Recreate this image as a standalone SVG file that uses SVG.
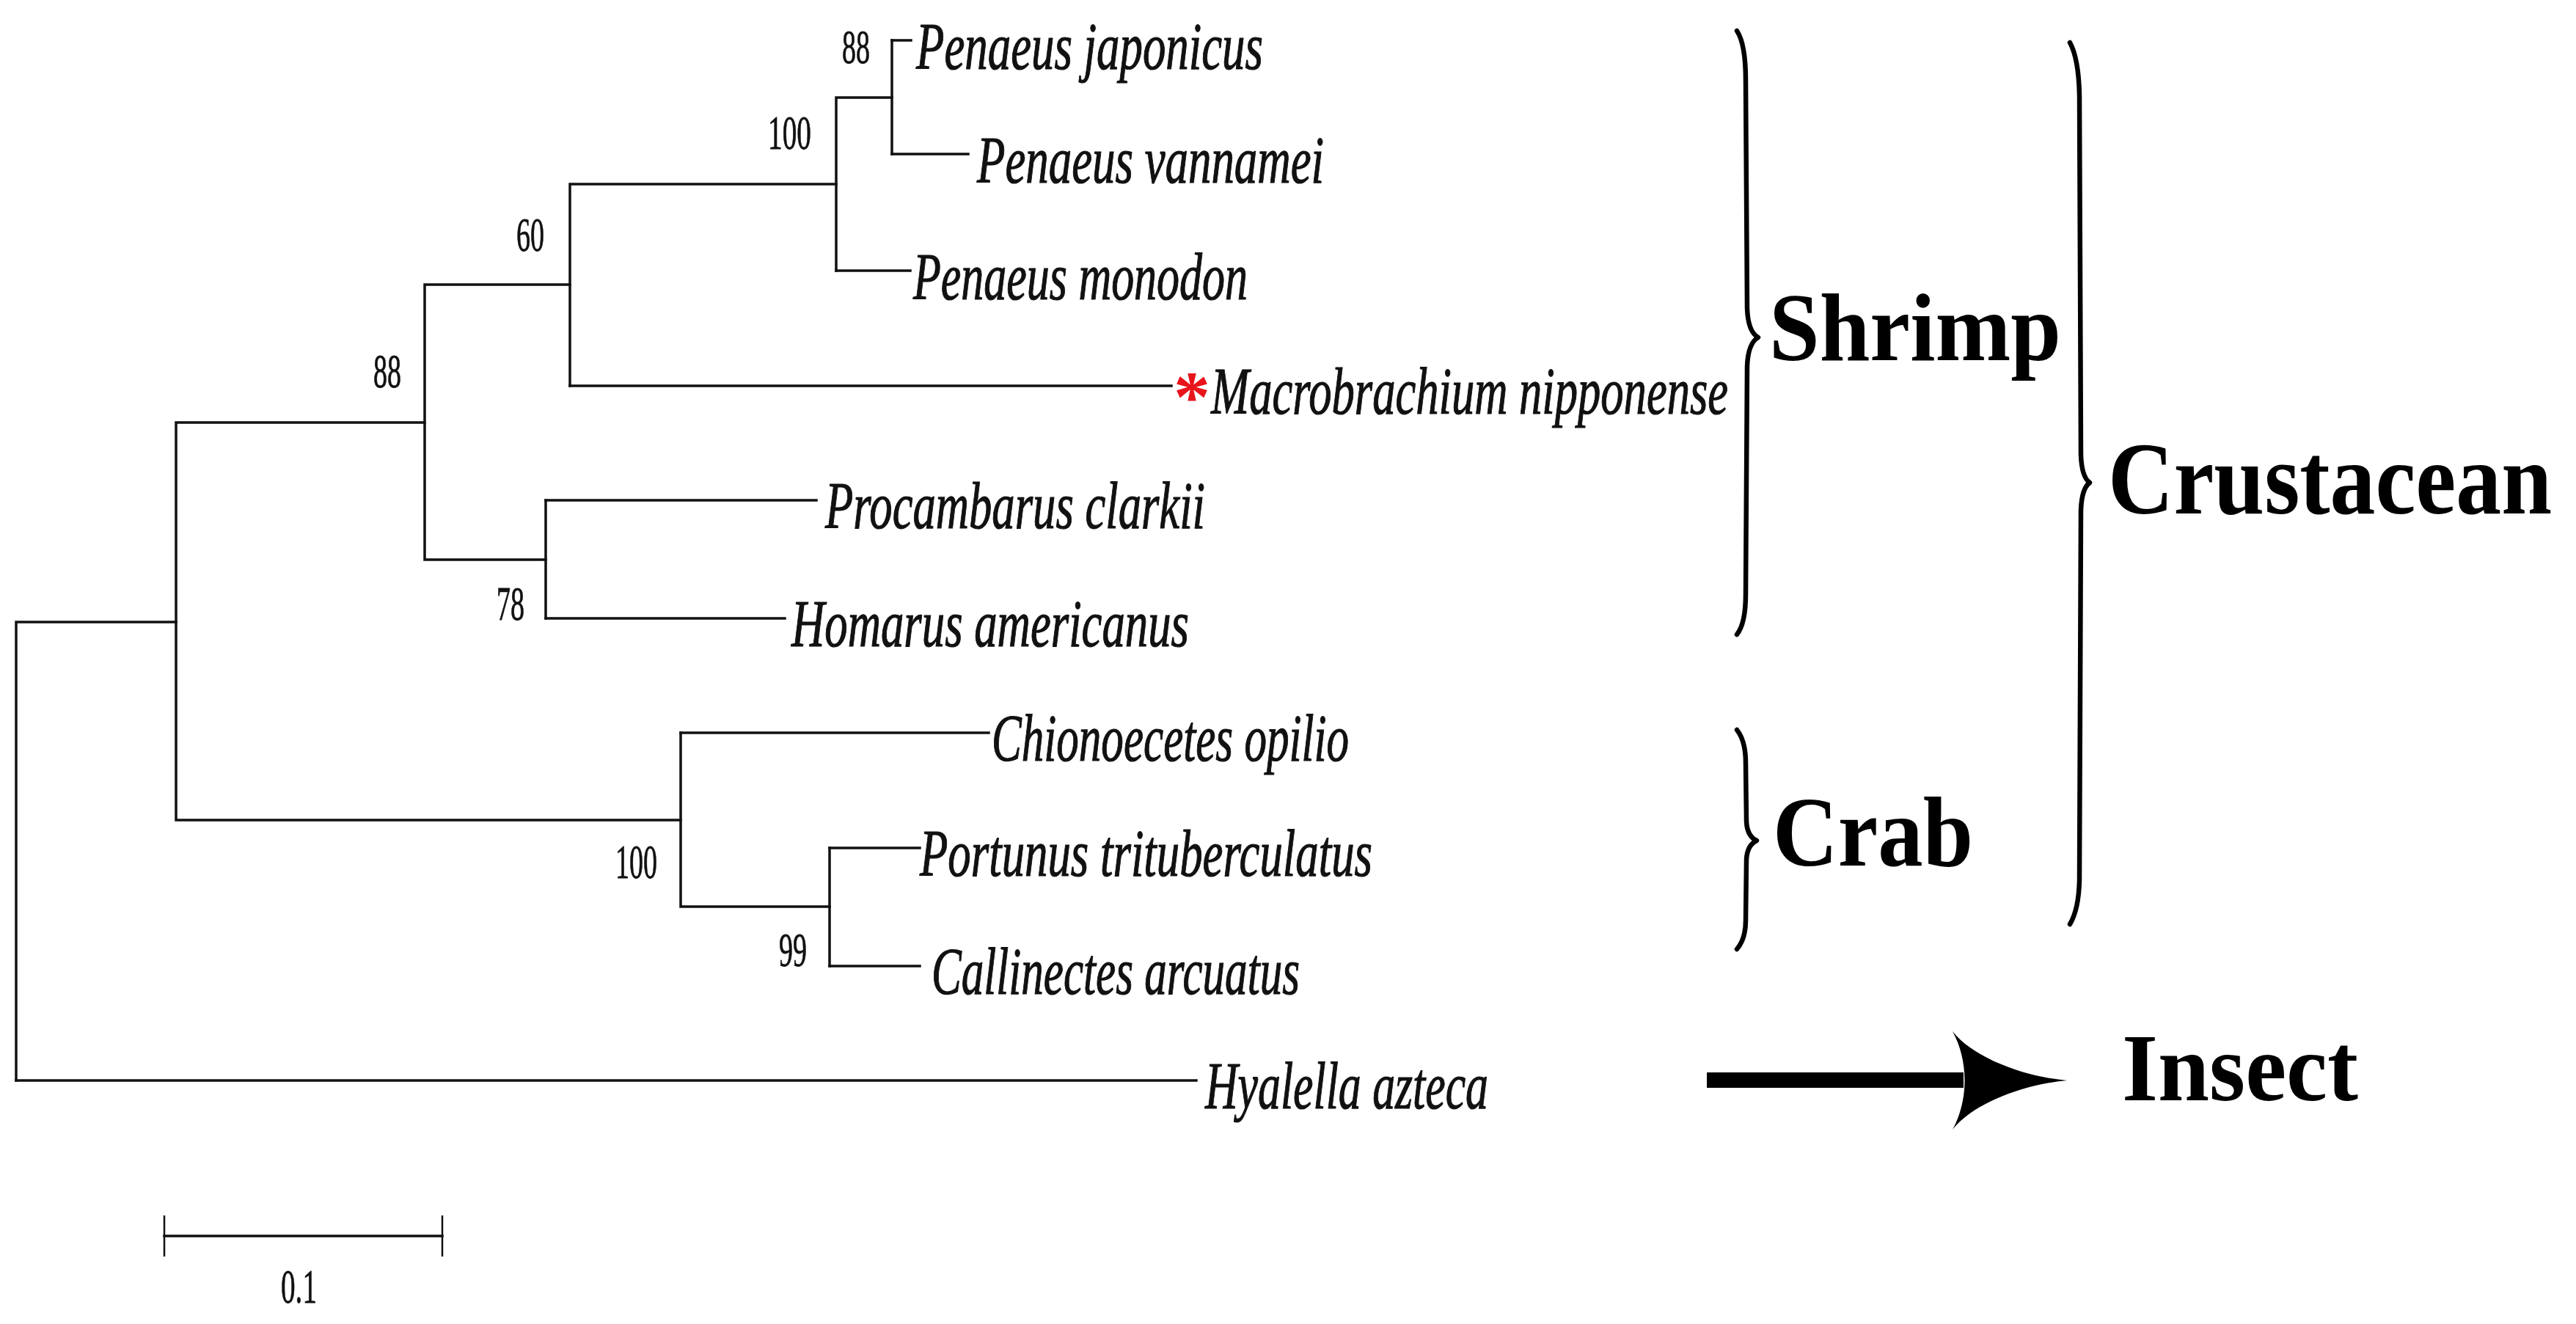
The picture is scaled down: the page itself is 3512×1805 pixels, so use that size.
<svg xmlns="http://www.w3.org/2000/svg" width="3512" height="1805" viewBox="0 0 3512 1805">
<style>
  .br { fill: none; stroke: #111; stroke-width: 3.5; stroke-linecap: square; }
  .taxon { font-family: "Liberation Serif", "Times New Roman", serif; font-style: italic; font-size: 92px; fill: #111; stroke: #111; stroke-width: 1.2; }
  .boot { font-family: "Liberation Serif", "Times New Roman", serif; font-size: 66px; fill: #111; stroke: #111; stroke-width: 0.8; }
  .group { font-family: "Liberation Serif", "Times New Roman", serif; font-weight: bold; fill: #000; }
  .brace { fill: none; stroke: #000; stroke-width: 6.5; stroke-linecap: round; stroke-linejoin: round; }
</style>
<rect width="3512" height="1805" fill="#fff"/>

<g id="connectors">
  <path class="br" d="M22,848 V1473 M22,848 H240"/>
  <path class="br" d="M240,576 V1118 M240,576 H579 M240,1118 H928"/>
  <path class="br" d="M579,388 V763 M579,388 H777 M579,763 H744"/>
  <path class="br" d="M777,251 V526 M777,251 H1140"/>
  <path class="br" d="M1140,133 V369 M1140,133 H1216"/>
  <path class="br" d="M1216,55 V210"/>
  <path class="br" d="M744,682 V843"/>
  <path class="br" d="M928,999 V1236 M928,1236 H1131"/>
  <path class="br" d="M1131,1156 V1317"/>
  <path class="br" d="M1216,55 H1242"/>
  <path class="br" d="M1216,210 H1320"/>
  <path class="br" d="M1140,369 H1241"/>
  <path class="br" d="M777,526 H1597"/>
  <path class="br" d="M744,682 H1113"/>
  <path class="br" d="M744,843 H1070"/>
  <path class="br" d="M928,999 H1348"/>
  <path class="br" d="M1131,1156 H1254"/>
  <path class="br" d="M1131,1317 H1254"/>
  <path class="br" d="M22,1473 H1631"/>
</g>

<g id="bootstrap">
  <text class="boot" x="1148" y="86" textLength="38" lengthAdjust="spacingAndGlyphs">88</text>
  <text class="boot" x="1047" y="203" textLength="59" lengthAdjust="spacingAndGlyphs">100</text>
  <text class="boot" x="704" y="342" textLength="38" lengthAdjust="spacingAndGlyphs">60</text>
  <text class="boot" x="509" y="528" textLength="38" lengthAdjust="spacingAndGlyphs">88</text>
  <text class="boot" x="677" y="845" textLength="38" lengthAdjust="spacingAndGlyphs">78</text>
  <text class="boot" x="839" y="1197" textLength="57" lengthAdjust="spacingAndGlyphs">100</text>
  <text class="boot" x="1062" y="1317" textLength="38" lengthAdjust="spacingAndGlyphs">99</text>
</g>

<g id="taxon-penaeus-japonicus"><text class="taxon" x="1249" y="94" textLength="473" lengthAdjust="spacingAndGlyphs">Penaeus japonicus</text></g>
<g id="taxon-penaeus-vannamei"><text class="taxon" x="1332" y="249" textLength="473" lengthAdjust="spacingAndGlyphs">Penaeus vannamei</text></g>
<g id="taxon-penaeus-monodon"><text class="taxon" x="1245" y="408" textLength="456" lengthAdjust="spacingAndGlyphs">Penaeus monodon</text></g>
<g id="taxon-macrobrachium-nipponense">
  <text x="1600" y="574" font-family="Liberation Serif, serif" font-weight="bold" font-size="100" fill="#e8141c">*</text>
  <text class="taxon" transform="translate(1651,564) scale(0.678,1)" x="0" y="0" textLength="1040" lengthAdjust="spacingAndGlyphs">Macrobrachium nipponense</text>
</g>
<g id="taxon-procambarus-clarkii"><text class="taxon" x="1125" y="720" textLength="518" lengthAdjust="spacingAndGlyphs">Procambarus clarkii</text></g>
<g id="taxon-homarus-americanus"><text class="taxon" x="1079" y="881" textLength="542" lengthAdjust="spacingAndGlyphs">Homarus americanus</text></g>
<g id="taxon-chionoecetes-opilio"><text class="taxon" x="1352" y="1037" textLength="487" lengthAdjust="spacingAndGlyphs">Chionoecetes opilio</text></g>
<g id="taxon-portunus-trituberculatus"><text class="taxon" x="1254" y="1194" textLength="617" lengthAdjust="spacingAndGlyphs">Portunus trituberculatus</text></g>
<g id="taxon-callinectes-arcuatus"><text class="taxon" x="1270" y="1355" textLength="502" lengthAdjust="spacingAndGlyphs">Callinectes arcuatus</text></g>
<g id="taxon-hyalella-azteca"><text class="taxon" x="1643" y="1511" textLength="386" lengthAdjust="spacingAndGlyphs">Hyalella azteca</text></g>

<g id="scale-bar">
  <path class="br" d="M224,1685 H603"/>
  <path d="M224,1657 V1713 M603,1657 V1713" stroke="#111" stroke-width="2.5" fill="none"/>
  <text class="boot" x="383" y="1776" font-size="70" textLength="49" lengthAdjust="spacingAndGlyphs">0.1</text>
</g>

<g id="group-shrimp">
  <path class="brace" d="M2368,42 Q2380,60 2380,110 L2382,420 Q2383,452 2397,460 Q2383,468 2382,500 L2380,810 Q2380,850 2368,865"/>
  <text class="group" x="2412" y="491" font-size="131" textLength="398" lengthAdjust="spacingAndGlyphs">Shrimp</text>
</g>
<g id="group-crab">
  <path class="brace" d="M2368,995 Q2380,1010 2380,1040 L2381,1120 Q2382,1140 2395,1146 Q2382,1152 2381,1172 L2380,1255 Q2380,1280 2368,1294"/>
  <text class="group" x="2417" y="1180" font-size="135" textLength="273" lengthAdjust="spacingAndGlyphs">Crab</text>
</g>
<g id="group-crustacean">
  <path class="brace" d="M2822,58 Q2834,80 2835,130 L2837,620 Q2838,650 2849,658 Q2838,666 2837,696 L2835,1200 Q2834,1240 2822,1260"/>
  <text class="group" transform="translate(2874,700) scale(0.8845,1)" x="0" y="0" font-size="140" textLength="684" lengthAdjust="spacingAndGlyphs">Crustacean</text>
</g>
<g id="group-insect">
  <rect x="2327" y="1462" width="350" height="21" fill="#000"/>
  <path d="M2662,1406 C2690,1442 2760,1468 2818,1473 C2760,1478 2690,1504 2662,1540 C2684,1500 2684,1446 2662,1406 Z" fill="#000"/>
  <text class="group" x="2893" y="1500" font-size="131" textLength="322" lengthAdjust="spacingAndGlyphs">Insect</text>
</g>
</svg>
